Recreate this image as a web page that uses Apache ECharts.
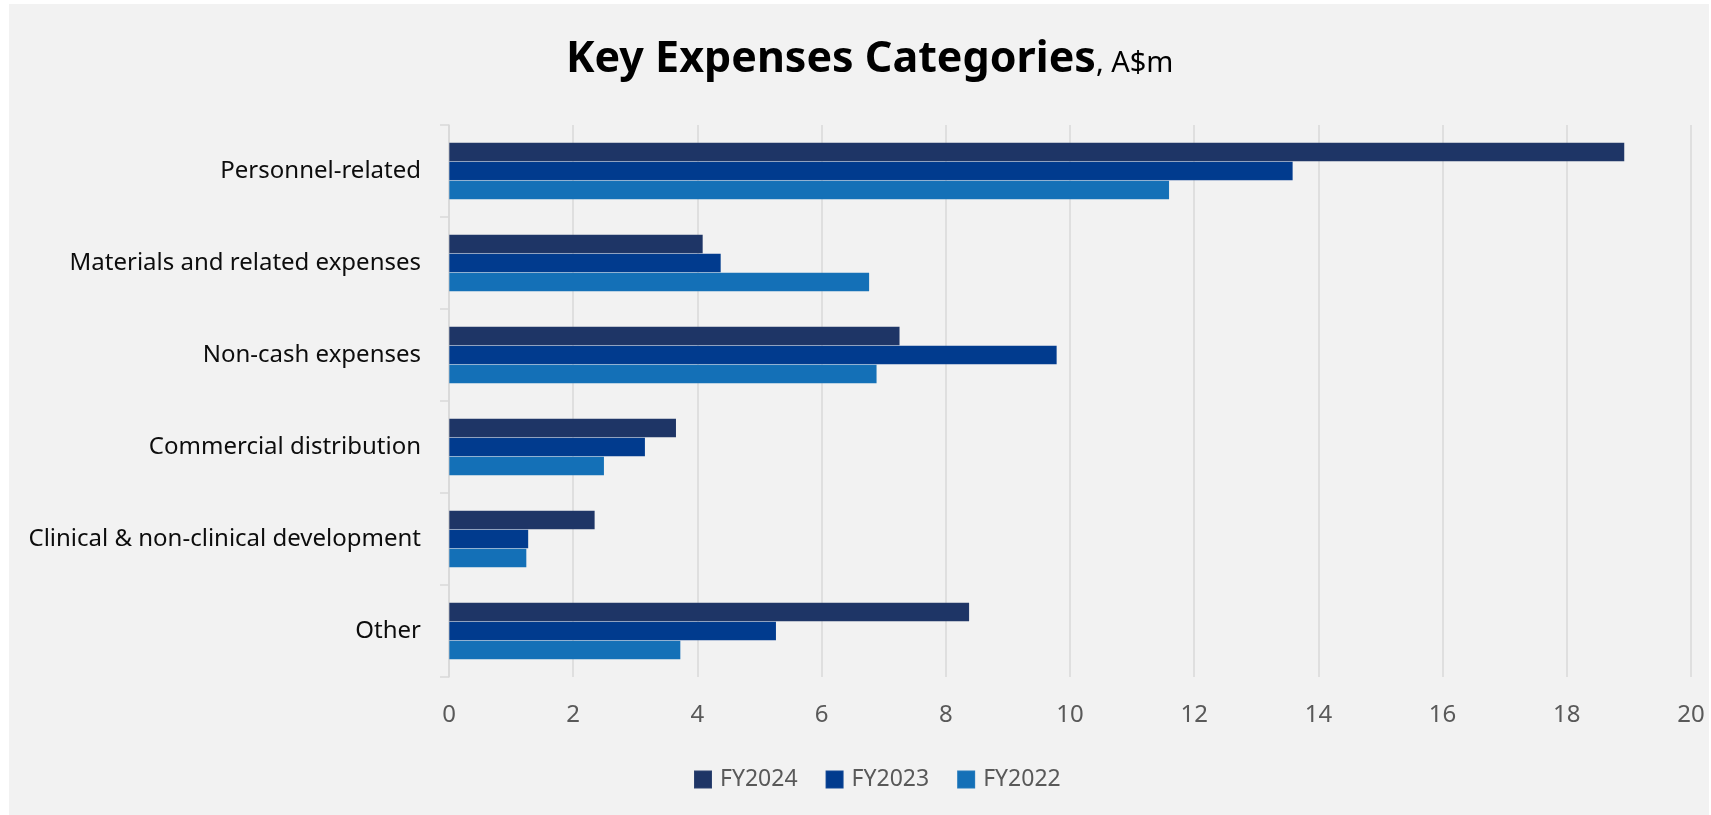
<!DOCTYPE html>
<html>
<head>
<meta charset="utf-8">
<script src="https://cdn.jsdelivr.net/npm/echarts@6/dist/echarts.min.js"></script>
<style>
html,body{margin:0;padding:0;background:#ffffff;}
#c{width:1711px;height:815px;}
</style>
</head>
<body>
<div id="c"></div>
<script>
const categories = ['Personnel-related', 'Materials and related expenses', 'Non-cash expenses', 'Commercial distribution', 'Clinical & non-clinical development', 'Other'];
const seriesNames = ['FY2024', 'FY2023', 'FY2022'];
const fy2024 = [18.93, 4.09, 7.26, 3.66, 2.35, 8.38];
const fy2023 = [13.59, 4.38, 9.79, 3.16, 1.28, 5.27];
const fy2022 = [11.60, 6.77, 6.89, 2.50, 1.25, 3.73];
const xTicks = [0, 2, 4, 6, 8, 10, 12, 14, 16, 18, 20];

const colors = ['#1e3566', '#013b8e', '#1470b7'];
const values = [fy2024, fy2023, fy2022];
const font = 'Noto Sans';

const chart = echarts.init(document.getElementById('c'), null, {renderer: 'canvas'});
chart.setOption({
  backgroundColor: '#ffffff',
  animation: false,
  textStyle: {fontFamily: font},
  graphic: [{
    type: 'rect', z: -10, silent: true,
    shape: {x: 9, y: 4, width: 1700, height: 811},
    style: {fill: '#f2f2f2'}
  }],
  title: {
    left: 561, top: 33,
    text: '{b|Key Expenses Categories}{n|, A$m}',
    textStyle: {
      rich: {
        b: {fontFamily: font, fontWeight: 'bold', fontSize: 43, color: '#000000'},
        n: {fontFamily: font, fontWeight: 'normal', fontSize: 29, color: '#000000', padding: [8, 0, 0, 0]}
      }
    }
  },
  legend: {
    data: seriesNames,
    left: 688, top: 763,
    itemWidth: 18, itemHeight: 18, itemGap: 27,
    icon: 'rect',
    textStyle: {fontFamily: font, fontSize: 23, color: '#595959', padding: [0, 0, 0, 3]}
  },
  grid: {left: 449, right: 20, top: 125, bottom: 138, containLabel: false},
  xAxis: {
    type: 'value', min: 0, max: xTicks[xTicks.length - 1], interval: xTicks[1] - xTicks[0],
    axisLine: {show: false}, axisTick: {show: false},
    splitLine: {show: true, lineStyle: {color: '#d9d9d9', width: 1.5}},
    axisLabel: {fontFamily: font, fontSize: 24, color: '#595959', margin: 26}
  },
  yAxis: {
    type: 'category', data: categories, inverse: true,
    axisLine: {show: true, lineStyle: {color: '#d9d9d9', width: 1.5}},
    axisTick: {show: true, length: 9, lineStyle: {color: '#d9d9d9', width: 1.5}},
    axisLabel: {fontFamily: font, fontSize: 24, color: '#0d0d0d', margin: 28}
  },
  series: seriesNames.map((n, i) => ({
    name: n, type: 'bar', data: values[i],
    barGap: '0%', barCategoryGap: '38%',
    itemStyle: {color: colors[i], borderColor: 'rgba(255,255,255,0.07)', borderWidth: 0.6}
  }))
});
</script>
</body>
</html>
